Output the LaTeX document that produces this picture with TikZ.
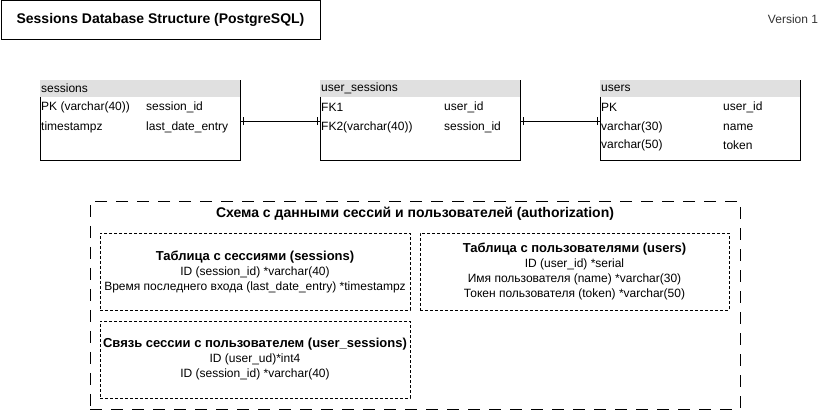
\documentclass[tikz,border=0pt]{standalone}
\usepackage{fontspec}
\setmainfont{Liberation Sans}
\usetikzlibrary{decorations.markings}
\colorlet{headgray}{black!12}
\colorlet{mutedtext}{black!80}

\tikzset{
  every node/.style={font=\fontsize{12}{14}\selectfont, inner sep=0pt},
  cell/.style={anchor=west},
  tablebox/.style={minimum width=200pt, minimum height=80pt, anchor=north west},
  erone/.style={postaction={decorate,decoration={markings,
      mark=at position 3pt with {\draw (0,-4pt) -- (0,4pt);},
      mark=at position -3pt with {\draw (0,-4pt) -- (0,4pt);}}}},
  groupbox/.style={draw, line width=0.8pt, dash pattern=on 12pt off 9pt},
  notebox/.style={draw, dash pattern=on 3pt off 2pt, minimum height=77pt,
      align=center, font=\fontsize{12}{15}\selectfont},
  bigbold/.style={font=\bfseries\fontsize{14}{16}\selectfont},
}

\begin{document}
\begin{tikzpicture}[x=1pt,y=-1pt]
    \useasboundingbox (0,0) rectangle (828,411);

    % frame of a table: header band, open top edge
    \def\tableframe#1#2{
        \fill[headgray] (#1.north west) rectangle ([yshift=-17pt]#1.north east);
        \draw ([yshift=-17pt]#1.north west) -- (#1.south west) -- (#1.south east) -- (#1.north east);
        \node[cell] (#1-title) at ([xshift=1pt,yshift=-8.5pt]#1.north west) {#2};
    }
    \def\notehead#1{{\bfseries\fontsize{13}{15}\selectfont #1}}

    % HEADER
    \node[draw, line width=0.8pt, minimum width=319pt, minimum height=39pt, bigbold]
        (title) at (160.5,20) {Sessions Database Structure (PostgreSQL)};
    \node[text=mutedtext] (version) at (793,19) {Version 1};

    % TABLES
    \node[tablebox] (sessions) at (40,80) {};
    \node[tablebox] (usersess) at (320,80) {};
    \node[tablebox] (users) at (600,80) {};

    \tableframe{sessions}{sessions}
    \tableframe{usersess}{user\_sessions}
    \tableframe{users}{users}

    \node[cell] (s-pk) at (41,107) {PK (varchar(40))};
    \node[cell] (s-pkname) at (146,107) {session\_id};
    \node[cell] (s-ts) at (41,127) {timestampz};
    \node[cell] (s-tsname) at (146,127) {last\_date\_entry};

    \node[cell] (us-fk1) at (321,107) {FK1};
    \node[cell] (us-fk1name) at (444,107) {user\_id};
    \node[cell] (us-fk2) at (321,127) {FK2(varchar(40))};
    \node[cell] (us-fk2name) at (444,127) {session\_id};

    \node[cell] (u-pk) at (601,107) {PK};
    \node[cell] (u-pkname) at (723,107) {user\_id};
    \node[cell] (u-name) at (601,127) {varchar(30)};
    \node[cell] (u-namename) at (723,127) {name};
    \node[cell] (u-token) at (601,145) {varchar(50)};
    \node[cell] (u-tokenname) at (723,145) {token};

    % LINKS
    \draw[erone] ([yshift=-1pt]sessions.east) -- ([yshift=-1pt]usersess.west);
    \draw[erone] ([yshift=-1pt]usersess.east) -- ([yshift=-1pt]users.west);

    % SCHEMA
    \node[groupbox, minimum width=650pt, minimum height=208pt] (schema) at (415,305) {};
    \node[bigbold] (schema-title) at (415,214)
        {Схема с данными сессий и пользователей (authorization)};

    \node[notebox, minimum width=310pt] (note-sessions) at (255,271.5)
        {\notehead{Таблица с сессиями (sessions)}\\
         ID (session\_id) *varchar(40)\\
         Время последнего входа (last\_date\_entry) *timestampz};
    \node[notebox, minimum width=309pt] (note-users) at (574.5,271.5)
        {\notehead{Таблица с пользователями (users)}\\
         ID (user\_id) *serial\\
         Имя пользователя (name) *varchar(30)\\
         Токен пользователя (token) *varchar(50)};
    \node[notebox, minimum width=310pt] (note-link) at (255,359.5)
        {\notehead{Связь сессии с пользователем (user\_sessions)}\\
         ID (user\_ud)*int4\\
         ID (session\_id) *varchar(40)};

\end{tikzpicture}
\end{document}
